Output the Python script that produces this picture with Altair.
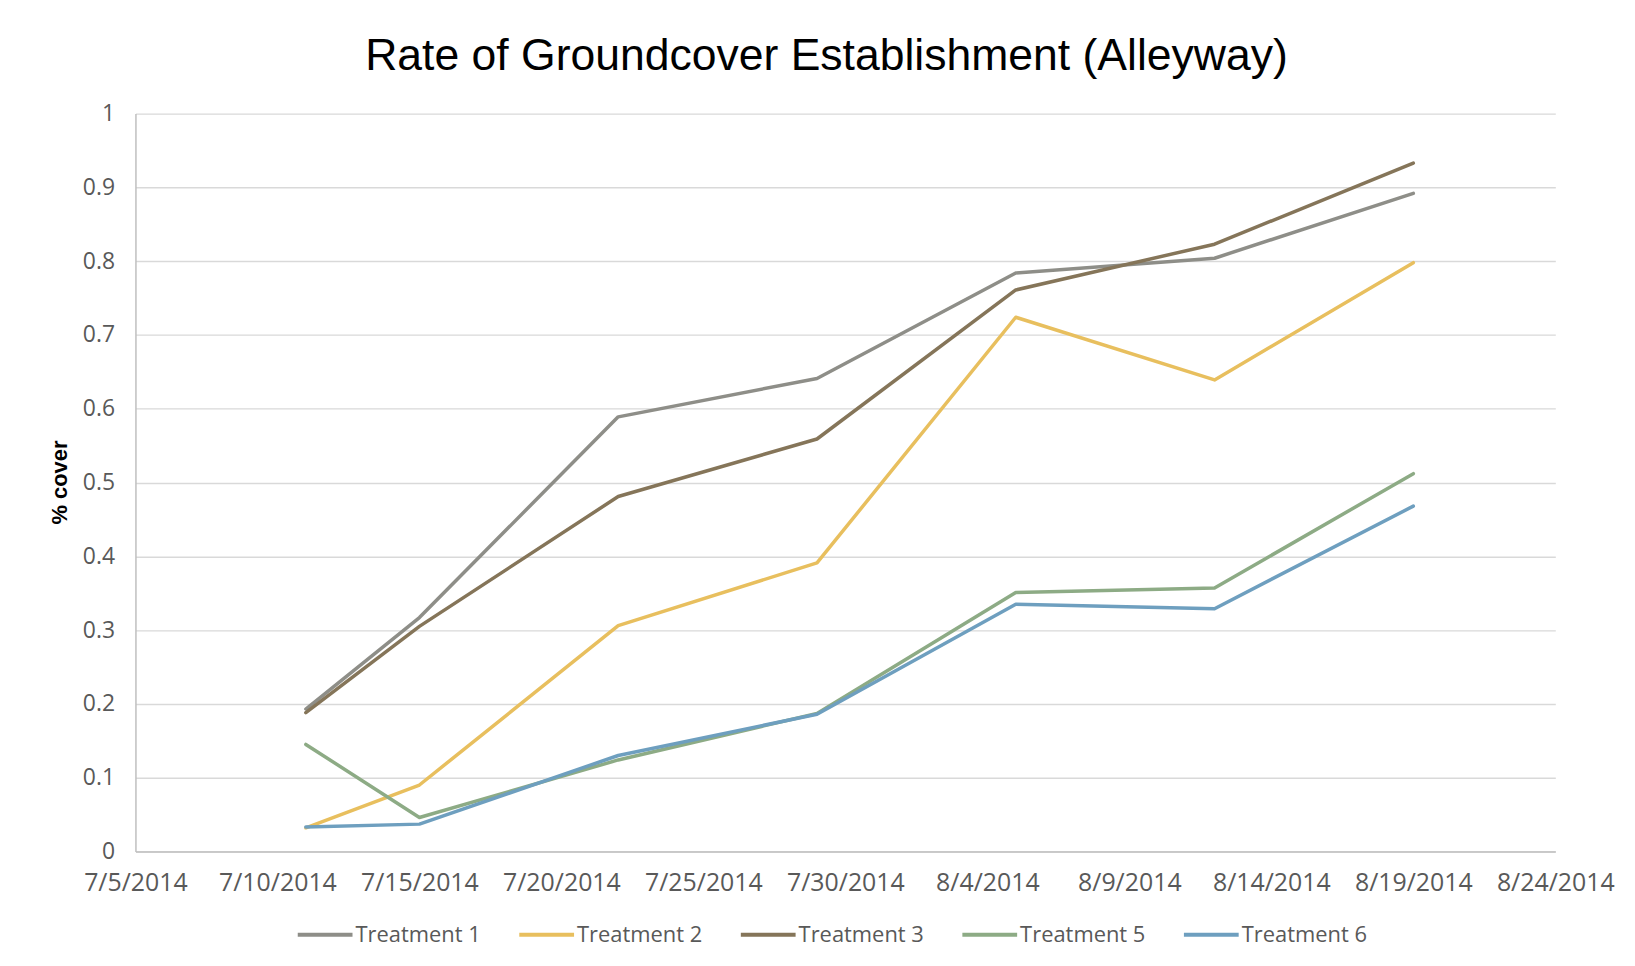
import altair as alt
import pandas as pd

dates = ["2014-07-11", "2014-07-15", "2014-07-22", "2014-07-29",
         "2014-08-05", "2014-08-12", "2014-08-19"]
series_names = ["Treatment 1", "Treatment 2", "Treatment 3", "Treatment 5", "Treatment 6"]
t1 = [0.193, 0.317, 0.589, 0.641, 0.784, 0.804, 0.892]
t2 = [0.032, 0.090, 0.306, 0.391, 0.724, 0.639, 0.798]
t3 = [0.188, 0.305, 0.481, 0.559, 0.761, 0.823, 0.933]
t5 = [0.145, 0.046, 0.124, 0.187, 0.351, 0.357, 0.512]
t6 = [0.033, 0.037, 0.130, 0.186, 0.335, 0.329, 0.468]
colors = ["#8E8E88", "#E8BF5E", "#857559", "#8DAB85", "#6E9FBF"]

y_ticks = [0, 0.1, 0.2, 0.3, 0.4, 0.5, 0.6, 0.7, 0.8, 0.9, 1]
x_ticks = [(2014, 7, 5), (2014, 7, 10), (2014, 7, 15), (2014, 7, 20), (2014, 7, 25),
           (2014, 7, 30), (2014, 8, 4), (2014, 8, 9), (2014, 8, 14), (2014, 8, 19),
           (2014, 8, 24)]

rows = []
for name, vals in zip(series_names, [t1, t2, t3, t5, t6]):
    for d, v in zip(dates, vals):
        rows.append({"date": d, "cover": v, "series": name})
df = pd.DataFrame(rows)

def dt(t):
    return alt.DateTime(year=t[0], month=t[1], date=t[2], utc=True)

label_font = "Open Sans"
label_color = "#595959"

chart = alt.Chart(df).mark_line(strokeWidth=3.5, strokeCap="round", strokeJoin="round").encode(
    x=alt.X("date:T",
            scale=alt.Scale(type="utc", domain=[dt(x_ticks[0]), dt(x_ticks[-1])]),
            axis=alt.Axis(values=[dt(t) for t in x_ticks],
                          labelExpr="utcFormat(datum.value, '%-m/%-d/%Y')",
                          title=None, grid=False, ticks=False,
                          labelFontSize=25,
                          labelPadding=19, labelOverlap=False, labelBound=False,
                          labelFlush=False,
                          domainColor="#BFBFBF", domainWidth=1.5)),
    y=alt.Y("cover:Q",
            scale=alt.Scale(domain=[0, 1], nice=False),
            axis=alt.Axis(values=y_ticks, format=".1~f", title="% cover",
                          titleFont="Liberation Sans", titleFontSize=22,
                          titleFontWeight="bold", titleColor="#000000",
                          titleAngle=270, titleX=-76, titleY=370,
                          titleAlign="center", titleBaseline="middle",
                          labelFontSize=23,
                          grid=True, gridColor="#D9D9D9", gridWidth=1.4,
                          ticks=False, labelPadding=21,
                          domainColor="#BFBFBF", domainWidth=1.5)),
    color=alt.Color("series:N",
                    scale=alt.Scale(domain=series_names, range=colors),
                    legend=alt.Legend(title=None, orient="none", direction="horizontal",
                                      legendX=161, legendY=795,
                                      symbolType="stroke", symbolSize=3025,
                                      symbolStrokeWidth=4, labelOffset=1,
                                      columnPadding=30.5, padding=0,
                                      labelFont=label_font, labelFontSize=22,
                                      labelColor=label_color)),
    order=alt.Order("date:T"),
).properties(
    width=1426,
    height=741,
    title=alt.TitleParams("Rate of Groundcover Establishment (Alleyway)",
                          font="Liberation Sans", fontSize=44.7, fontWeight="normal",
                          color="#000000", anchor="middle", frame="group",
                          dx=-19, dy=34, offset=22, baseline="alphabetic"),
    autosize=alt.AutoSizeParams(type="none"),
    padding={"left": 128, "top": 104, "right": 72, "bottom": 110},
    background="#FFFFFF",
).configure_axis(
    labelFont=label_font, labelColor=label_color,
).configure_view(stroke=None)

chart.save("out.html", embed_options={"renderer": "svg", "actions": False})
